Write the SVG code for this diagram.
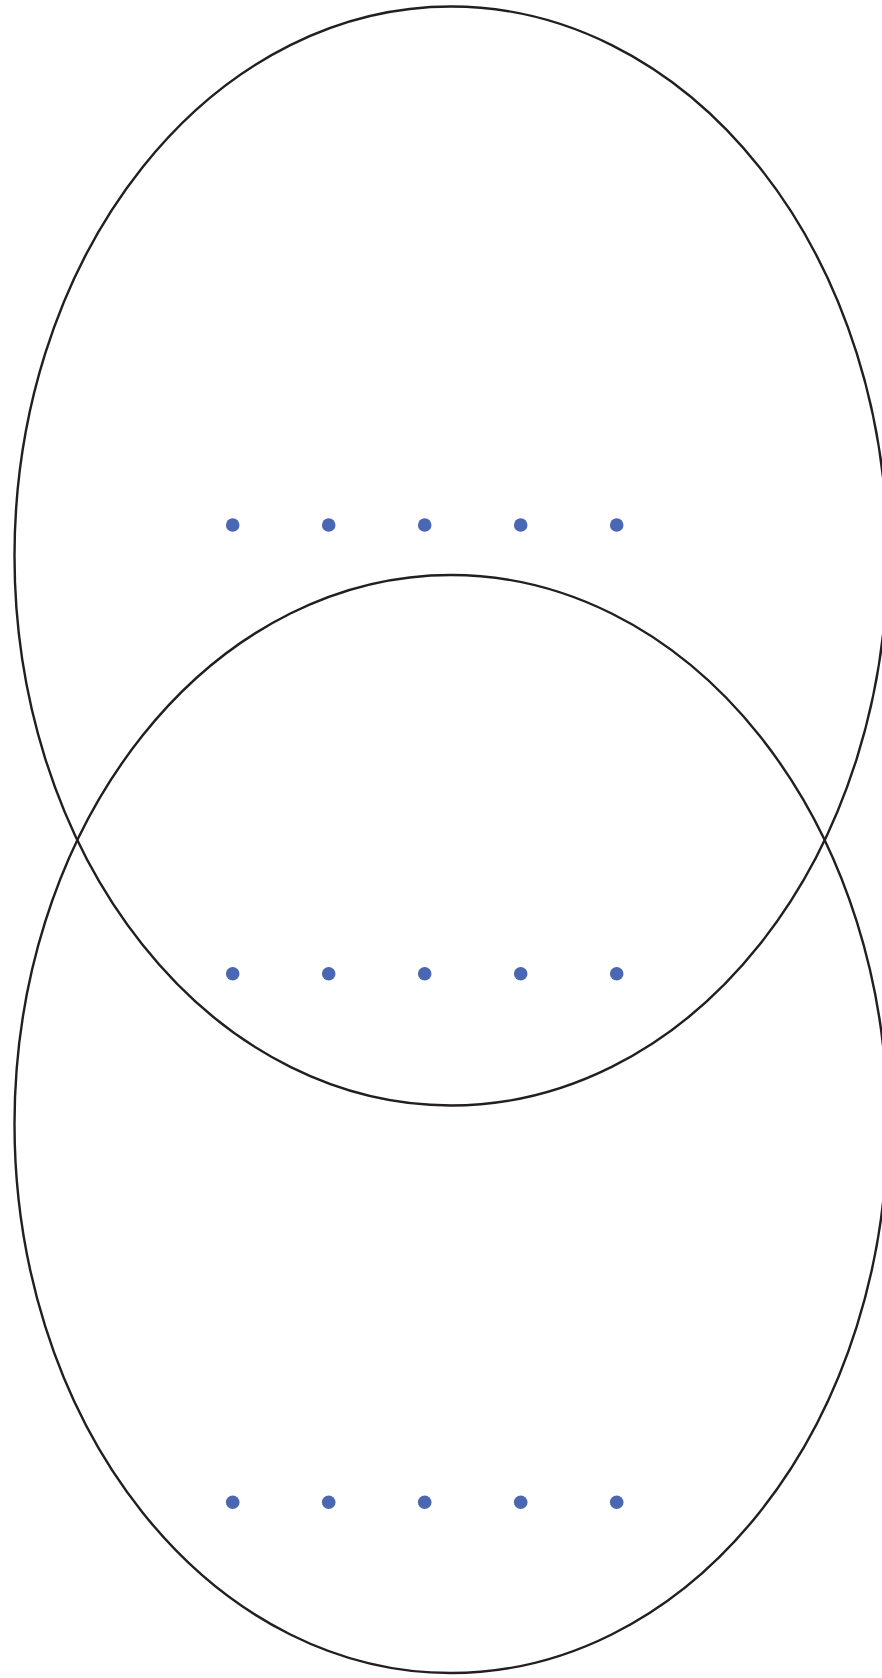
<svg xmlns="http://www.w3.org/2000/svg" width="882" height="1678" viewBox="0 0 882 1678">
<style>
.ring{fill:none;stroke:#231f20;stroke-width:2.4}
.dot{fill:#4a67b1}
</style>
<rect width="882" height="1678" fill="#ffffff"/>
<g id="ellipse-top"><ellipse class="ring" cx="451" cy="556" rx="436.5" ry="549.5"/></g>
<g id="ellipse-bottom"><ellipse class="ring" cx="451" cy="1124" rx="436.5" ry="549"/></g>
<g id="dots-row1">
<circle class="dot" cx="232.7" cy="525" r="6.8"/>
<circle class="dot" cx="328.7" cy="525" r="6.8"/>
<circle class="dot" cx="424.7" cy="525" r="6.8"/>
<circle class="dot" cx="520.7" cy="525" r="6.8"/>
<circle class="dot" cx="616.7" cy="525" r="6.8"/>
</g>
<g id="dots-row2">
<circle class="dot" cx="232.7" cy="973.7" r="6.8"/>
<circle class="dot" cx="328.7" cy="973.7" r="6.8"/>
<circle class="dot" cx="424.7" cy="973.7" r="6.8"/>
<circle class="dot" cx="520.7" cy="973.7" r="6.8"/>
<circle class="dot" cx="616.7" cy="973.7" r="6.8"/>
</g>
<g id="dots-row3">
<circle class="dot" cx="232.7" cy="1502.3" r="6.8"/>
<circle class="dot" cx="328.7" cy="1502.3" r="6.8"/>
<circle class="dot" cx="424.7" cy="1502.3" r="6.8"/>
<circle class="dot" cx="520.7" cy="1502.3" r="6.8"/>
<circle class="dot" cx="616.7" cy="1502.3" r="6.8"/>
</g>
<g id="connectors"></g>
</svg>
